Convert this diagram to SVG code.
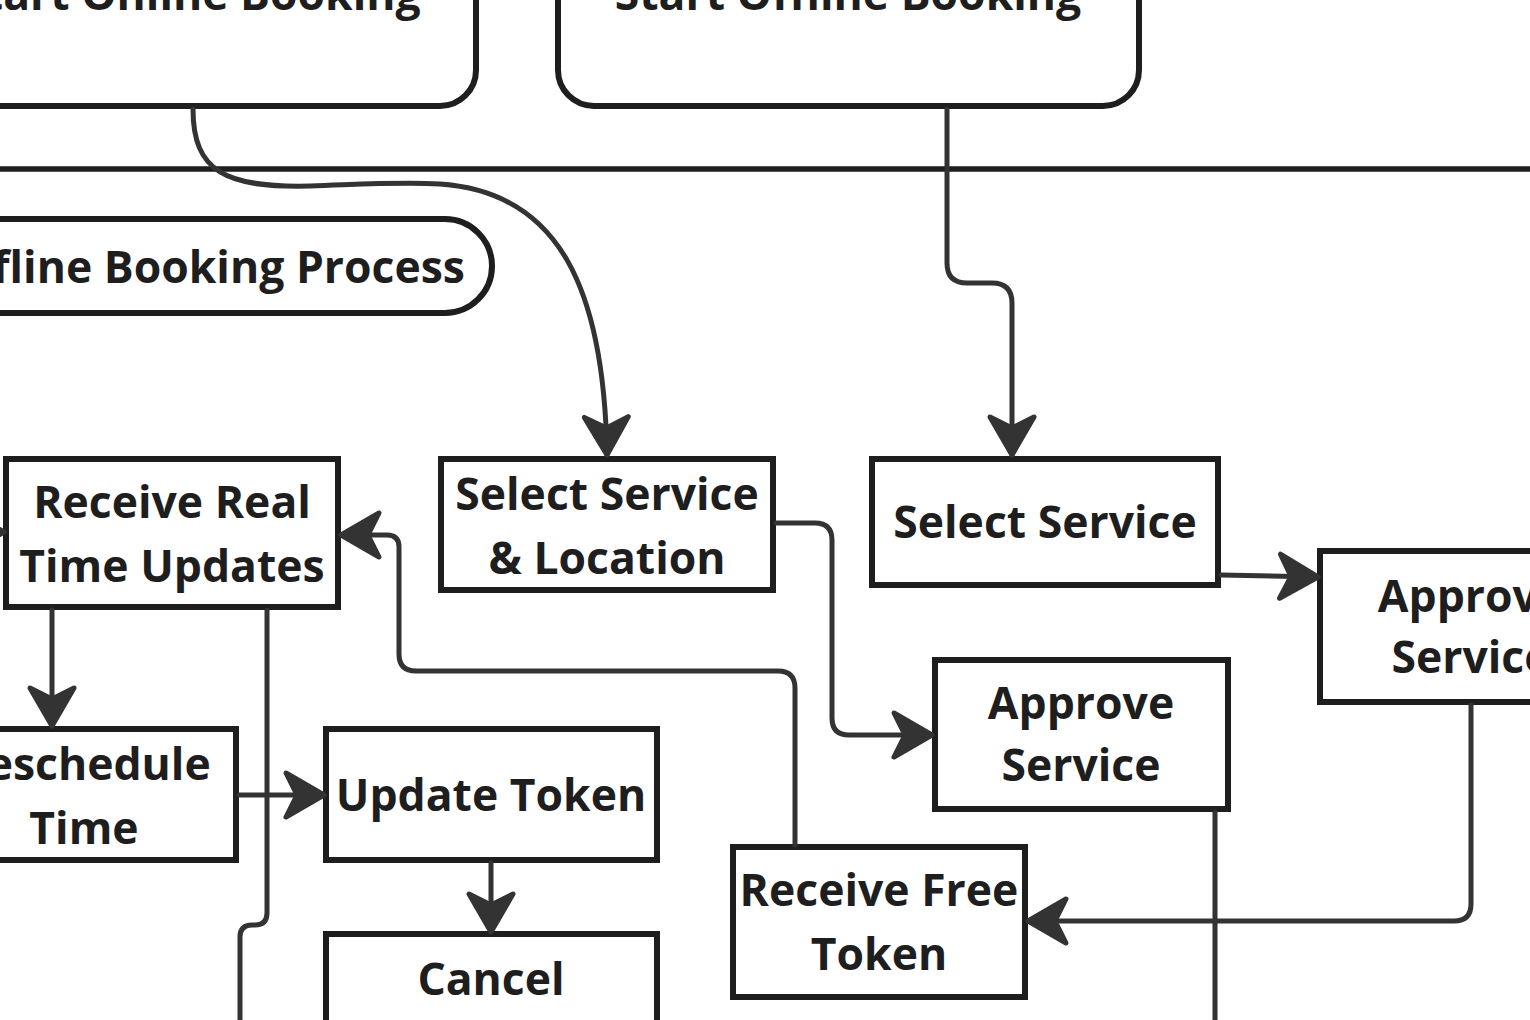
<svg xmlns="http://www.w3.org/2000/svg" width="1530" height="1020" viewBox="0 0 1530 1020">
<defs>
<style>
.node{fill:#ffffff;stroke:#1e1e1e;stroke-width:6}
.lane{fill:none;stroke:#1e1e1e;stroke-width:5.5}
.t{font-family:"Open Sans","Noto Sans",sans-serif;font-weight:700;font-size:44.5px;fill:#1e1e1e;text-anchor:middle}
.c{fill:none;stroke:#333333;stroke-width:5;stroke-linejoin:round;stroke-linecap:round}
</style>
<marker id="ah" viewBox="-46 -28 52 56" refX="0" refY="0" markerWidth="52" markerHeight="56" markerUnits="userSpaceOnUse" orient="auto">
<path d="M0,0 L-38,-22 L-27,0 L-38,22 Z" fill="#333333" stroke="#333333" stroke-width="5" stroke-linejoin="round"/>
</marker>
</defs>
<rect width="1530" height="1020" fill="#ffffff"/>

<g id="lane-divider">
<line class="lane" x1="0" y1="169" x2="1530" y2="169"/>
</g>

<g id="start-online">
<rect class="node" x="-110" y="-60" width="586" height="166" rx="36"/>
<text class="t" x="190" y="10">Start Online Booking</text>
</g>
<g id="start-offline">
<rect class="node" x="558" y="-60" width="581" height="166" rx="36"/>
<text class="t" x="848" y="10">Start Offline Booking</text>
</g>
<g id="offline-process">
<rect class="node" x="-200" y="219" width="692" height="94" rx="47"/>
<text class="t" x="465" y="283" style="text-anchor:end">Offline Booking Process</text>
</g>

<g id="receive-updates">
<rect class="node" x="6" y="459" width="332" height="148"/>
<text class="t" x="172" y="518">Receive Real</text>
<text class="t" x="172" y="582">Time Updates</text>
</g>
<g id="select-service-location">
<rect class="node" x="441" y="459" width="332" height="131"/>
<text class="t" x="607" y="510">Select Service</text>
<text class="t" x="607" y="574">&amp; Location</text>
</g>
<g id="select-service">
<rect class="node" x="872" y="459" width="346" height="126"/>
<text class="t" x="1045" y="538">Select Service</text>
</g>
<g id="approve-service-right">
<rect class="node" x="1320" y="551" width="300" height="151"/>
<text class="t" x="1471" y="612">Approve</text>
<text class="t" x="1471" y="673">Service</text>
</g>
<g id="approve-service">
<rect class="node" x="935" y="660" width="293" height="149"/>
<text class="t" x="1081" y="719">Approve</text>
<text class="t" x="1081" y="781">Service</text>
</g>
<g id="reschedule-time">
<rect class="node" x="-70" y="729" width="306" height="131"/>
<text class="t" x="84" y="780">Reschedule</text>
<text class="t" x="84" y="844">Time</text>
</g>
<g id="update-token">
<rect class="node" x="326" y="729" width="331" height="131"/>
<text class="t" x="491" y="811">Update Token</text>
</g>
<g id="cancel">
<rect class="node" x="326" y="934" width="331" height="150"/>
<text class="t" x="491" y="995">Cancel</text>
</g>
<g id="receive-free-token">
<rect class="node" x="733" y="847" width="292" height="150"/>
<text class="t" x="879" y="906">Receive Free</text>
<text class="t" x="879" y="970">Token</text>
</g>

<g id="connectors">
<path class="c" marker-end="url(#ah)" d="M193,109 C193,172 226,188 310,186 C370,184 400,182 440,184 C560,192 604,290 607,455"/>
<path class="c" marker-end="url(#ah)" d="M947,109 L947,263 Q947,283 967,283 L992,283 Q1012,283 1012,303 L1012,455"/>
<path class="c" marker-end="url(#ah)" d="M776,523 L815,523 Q832,523 832,540 L832,718 Q832,735 849,735 L932,735"/>
<path class="c" marker-end="url(#ah)" d="M1221,575 L1318,577"/>
<path class="c" marker-end="url(#ah)" d="M1471,705 L1471,904 Q1471,921 1454,921 L1028,921"/>
<path class="c" marker-end="url(#ah)" d="M795,845 L795,688 Q795,671 778,671 L416,671 Q399,671 399,654 L399,547 Q399,535 387,535 L341,535"/>
<path class="c" marker-end="url(#ah)" d="M52,610 L52,726"/>
<path class="c" marker-end="url(#ah)" d="M239,795 L324,795"/>
<path class="c" marker-end="url(#ah)" d="M491,863 L491,932"/>
<path class="c" d="M267,610 L267,913 Q267,925 255,925 L252,925 Q240,925 240,937 L240,1030"/>
<path class="c" d="M1215,812 L1215,1030"/>
<path class="c" marker-end="url(#ah)" d="M-60,532 L4,532"/>
</g>
</svg>
